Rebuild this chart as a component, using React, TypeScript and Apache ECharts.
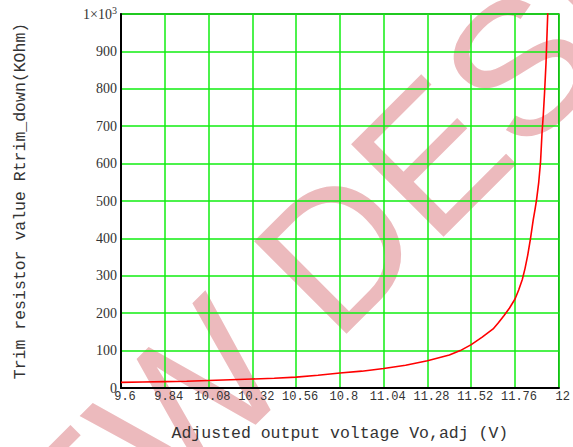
import React, { useEffect, useRef } from "react";
import * as echarts from "echarts";

const voltages = [
  9.6, 9.72, 9.84, 9.96, 10.08, 10.2, 10.32, 10.44, 10.56, 10.68, 10.8, 10.92,
  11.04, 11.16, 11.28, 11.4, 11.46, 11.52, 11.58, 11.64, 11.67, 11.7, 11.73,
  11.76, 11.78, 11.8, 11.815, 11.83, 11.845, 11.86, 11.87, 11.878, 11.89, 11.9,
  11.908, 11.915, 11.922, 11.93, 11.94,
];
const resistances = [
  15, 16, 17, 18, 20, 22, 24, 26, 29, 34, 40, 45,
  52, 61, 73, 88, 100, 116, 136, 158, 175, 194, 214,
  238, 262, 290, 320, 356, 400, 450, 478, 503, 550, 605,
  682, 730, 790, 870, 1010,
];
const xTickLabels = ["9.6", "9.84", "10.08", "10.32", "10.56", "10.8", "11.04", "11.28", "11.52", "11.76", "12"];
const xTitle = "Adjusted output voltage Vo,adj (V)";
const yTitle = "Trim resistor value Rtrim_down(KOhm)";
const watermark = "NEW DESIGN";

export default function App() {
  const ref = useRef<HTMLDivElement>(null);
  useEffect(() => {
    if (!ref.current) return;
    const chart = echarts.init(ref.current, undefined, { renderer: "svg" });
    const mono = "'Liberation Mono', 'DejaVu Sans Mono', monospace";
    const serif = "'Liberation Serif', 'DejaVu Serif', serif";
    chart.setOption({
      animation: false,
      backgroundColor: "#ffffff",
      graphic: [
        {
          type: "text",
          x: 371,
          y: 216,
          rotation: Math.PI / 4,
          z: -10,
          silent: true,
          style: {
            text: watermark,
            fontSize: 190,
            fontFamily: "'Liberation Sans', Arial, sans-serif",
            fill: "#ecbabd",
            align: "center",
            verticalAlign: "middle",
          },
        },
      ],
      grid: {
        left: 121,
        right: 14,
        top: 14,
        bottom: 58,
        show: true,
        borderColor: "#1a2a1a",
        borderWidth: 1.5,
        backgroundColor: "transparent",
      },
      xAxis: {
        type: "value",
        min: 9.6,
        max: 12,
        interval: 0.24,
        name: xTitle,
        nameLocation: "middle",
        nameGap: 37,
        nameTextStyle: { fontFamily: mono, fontSize: 16.5, color: "#333" },
        axisLine: { show: true, onZero: false, lineStyle: { color: "#000", width: 2 } },
        axisTick: { show: false },
        axisLabel: {
          fontFamily: mono,
          fontSize: 12,
          color: "#333",
          margin: 3,
          padding: [0, 0, 0, 8],
          showMinLabel: true,
          showMaxLabel: true,
          formatter: (v: number) => {
            const idx = Math.round((v - 9.6) / 0.24);
            return xTickLabels[idx] ?? "";
          },
        },
        splitLine: { show: true, lineStyle: { color: "#11ee11", width: 1.5 } },
      },
      yAxis: {
        type: "value",
        min: 0,
        max: 1000,
        interval: 100,
        name: yTitle,
        nameLocation: "middle",
        nameGap: 92,
        nameTextStyle: { fontFamily: mono, fontSize: 16.5, color: "#333" },
        axisLine: { show: true, onZero: false, lineStyle: { color: "#000", width: 2 } },
        axisTick: { show: false },
        axisLabel: {
          fontFamily: serif,
          fontSize: 14,
          color: "#333",
          margin: 4,
          formatter: (v: number) => (v === 1000 ? "1×10{sup|3}" : String(v)),
          rich: {
            sup: { fontFamily: serif, fontSize: 10, color: "#333", padding: [0, 0, 8, 0] },
          },
        },
        splitLine: { show: true, lineStyle: { color: "#11ee11", width: 1.5 } },
      },
      series: [
        {
          type: "line",
          data: voltages.map((v, i) => [v, resistances[i]]),
          showSymbol: false,
          symbol: "none",
          clip: true,
          lineStyle: { color: "#ff0000", width: 1.6 },
          z: 5,
        },
      ],
    });
    return () => chart.dispose();
  }, []);
  return (
    <div
      ref={ref}
      style={{ position: "fixed", left: 0, top: 0, width: 573, height: 447 }}
    />
  );
}
